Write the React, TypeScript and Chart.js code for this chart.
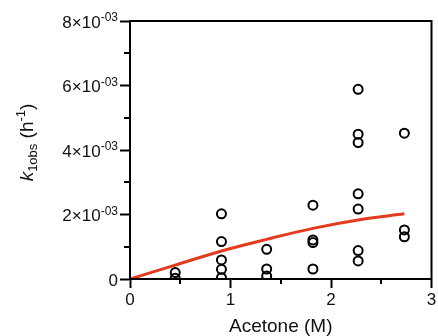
import React, { useEffect, useRef } from "react";
import { Chart, registerables } from "chart.js";

Chart.register(...registerables);

// Observations: acetone concentration (M) and k1obs (h^-1)
const obsX = [
  0.45, 0.45,
  0.91, 0.91, 0.91, 0.91, 0.91,
  1.36, 1.36, 1.36,
  1.82, 1.82, 1.82, 1.82,
  2.27, 2.27, 2.27, 2.27, 2.27, 2.27, 2.27,
  2.73, 2.73, 2.73,
];
const obsY = [
  0.0002, 0.00002,
  0.00202, 0.00116, 0.00059, 0.0003, 0.00004,
  0.00092, 0.00031, 0.00009,
  0.00229, 0.00121, 0.00113, 0.00031,
  0.00588, 0.00449, 0.00423, 0.00264, 0.00217, 0.00088, 0.00056,
  0.00452, 0.00152, 0.00131,
];

// Fitted curve
const fitX = [0, 0.45, 0.91, 1.36, 1.82, 2.27, 2.73];
const fitY = [0, 0.00043, 0.00087, 0.00123, 0.00157, 0.00183, 0.00202];

// Axis ticks and labels
const xTicks = [0, 1, 2, 3];
const xTickLabels = ["0", "1", "2", "3"];
const xMinor = [0.5, 1.5, 2.5];
const yTicks = [0, 0.002, 0.004, 0.006, 0.008];
const yTickMain = ["0", "2\u00d710", "4\u00d710", "6\u00d710", "8\u00d710"];
const yTickSup = ["", "-03", "-03", "-03", "-03"];
const yMinor = [0.001, 0.003, 0.005, 0.007];

const FONT = "'Liberation Sans', Arial, Helvetica, sans-serif";

const decorPlugin = {
  id: "decor",
  afterDraw(chart: any) {
    const ctx = chart.ctx as CanvasRenderingContext2D;
    const { left, right, top, bottom } = chart.chartArea;
    const xs = chart.scales.x;
    const ys = chart.scales.y;
    ctx.save();
    // frame
    ctx.strokeStyle = "#000";
    ctx.lineWidth = 2;
    ctx.strokeRect(left, top, right - left, bottom - top);
    // minor ticks
    ctx.beginPath();
    yMinor.forEach((v) => {
      const y = Math.round(ys.getPixelForValue(v));
      ctx.moveTo(left - 6, y);
      ctx.lineTo(left, y);
    });
    xMinor.forEach((v) => {
      const x = Math.round(xs.getPixelForValue(v));
      ctx.moveTo(x, bottom);
      ctx.lineTo(x, bottom + 5);
    });
    ctx.stroke();

    ctx.fillStyle = "#111";
    // y tick labels with superscript exponent
    yTicks.forEach((v, i) => {
      const y = ys.getPixelForValue(v);
      ctx.font = `17px ${FONT}`;
      const wm = ctx.measureText(yTickMain[i]).width;
      ctx.font = `12px ${FONT}`;
      const ws = yTickSup[i] ? ctx.measureText(yTickSup[i]).width : 0;
      const x0 = left - 12 - wm - ws;
      ctx.textBaseline = "middle";
      ctx.textAlign = "left";
      ctx.font = `17px ${FONT}`;
      ctx.fillText(yTickMain[i], x0, y + 2);
      if (yTickSup[i]) {
        ctx.font = `12px ${FONT}`;
        ctx.fillText(yTickSup[i], x0 + wm, y - 3);
      }
    });
    // x tick labels
    ctx.font = `17px ${FONT}`;
    ctx.textAlign = "center";
    ctx.textBaseline = "middle";
    xTicks.forEach((v, i) => {
      ctx.fillText(xTickLabels[i], xs.getPixelForValue(v), 300);
    });
    // x title
    ctx.font = `19px ${FONT}`;
    ctx.fillText("Acetone (M)", (left + right) / 2, 327);

    // y title: k_{1obs} (h^{-1})
    const parts = [
      { t: "k", f: `italic 19px ${FONT}`, dy: 0 },
      { t: "1obs", f: `13px ${FONT}`, dy: 4 },
      { t: " (h", f: `19px ${FONT}`, dy: 0 },
      { t: "-1", f: `13px ${FONT}`, dy: -8 },
      { t: ")", f: `19px ${FONT}`, dy: 0 },
    ];
    let total = 0;
    const widths = parts.map((p) => {
      ctx.font = p.f;
      const w = ctx.measureText(p.t).width;
      total += w;
      return w;
    });
    ctx.translate(27, 142.5);
    ctx.rotate(-Math.PI / 2);
    ctx.textAlign = "left";
    ctx.textBaseline = "alphabetic";
    let cx = -total / 2;
    parts.forEach((p, i) => {
      ctx.font = p.f;
      ctx.fillText(p.t, cx, 6 + p.dy);
      cx += widths[i];
    });
    ctx.restore();
  },
};

export default function App() {
  const ref = useRef<HTMLCanvasElement | null>(null);
  useEffect(() => {
    if (!ref.current) return;
    const scatter = obsX.map((x, i) => ({ x, y: obsY[i] }));
    const fit = fitX.map((x, i) => ({ x, y: fitY[i] }));
    const chart = new Chart(ref.current, {
      type: "scatter",
      data: {
        datasets: [
          {
            type: "line",
            data: fit,
            borderColor: "rgb(228,58,30)",
            borderWidth: 3,
            pointRadius: 0,
            tension: 0.4,
            cubicInterpolationMode: "monotone",
            fill: false,
          } as any,
          {
            data: scatter,
            pointRadius: 4.5,
            pointBorderWidth: 2,
            borderColor: "#000",
            backgroundColor: "rgba(0,0,0,0)",
            pointStyle: "circle",
          },
        ],
      },
      options: {
        animation: false,
        responsive: false,
        devicePixelRatio: 1,
        layout: { padding: { top: 21, right: 5, left: 0, bottom: 0 } },
        plugins: { legend: { display: false }, tooltip: { enabled: false } },
        scales: {
          x: {
            type: "linear",
            min: 0,
            max: 3,
            afterFit: (s: any) => {
              s.height = 57;
            },
            afterBuildTicks: (s: any) => {
              s.ticks = xTicks.map((v) => ({ value: v }));
            },
            ticks: { display: false },
            grid: {
              drawOnChartArea: false,
              drawTicks: true,
              tickLength: 9,
              tickWidth: 2,
              tickColor: "#000",
              color: "#000",
            },
            border: { display: true, color: "#000", width: 2 },
          },
          y: {
            type: "linear",
            min: 0,
            max: 0.008,
            afterFit: (s: any) => {
              s.width = 130;
            },
            afterBuildTicks: (s: any) => {
              s.ticks = yTicks.map((v) => ({ value: v }));
            },
            ticks: { display: false },
            grid: {
              drawOnChartArea: false,
              drawTicks: true,
              tickLength: 10,
              tickWidth: 2,
              tickColor: "#000",
              color: "#000",
            },
            border: { display: true, color: "#000", width: 2 },
          },
        },
      },
      plugins: [decorPlugin],
    });
    return () => chart.destroy();
  }, []);
  return (
    <div style={{ position: "fixed", left: 0, top: 0, width: 438, height: 336, background: "#fff" }}>
      <canvas ref={ref} width={438} height={336} style={{ display: "block" }} />
    </div>
  );
}
